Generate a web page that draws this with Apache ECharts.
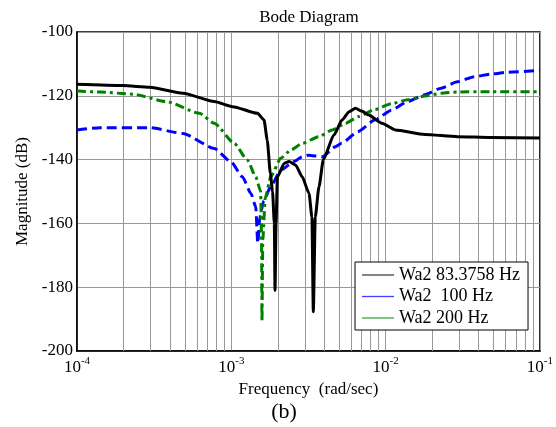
<!DOCTYPE html>
<html>
<head>
<meta charset="utf-8">
<script src="https://cdn.jsdelivr.net/npm/echarts@6/dist/echarts.min.js"></script>
<style>
  html, body { margin: 0; padding: 0; background: #fff; }
  #chart { width: 556px; height: 427px; }
</style>
</head>
<body>
<div id="chart"></div>
<script>
// values (frequency in rad/sec, magnitude in dB)
const blackFreq = [1e-4, 1.98e-4, 2.96e-4, 4.86e-4, 7.76e-4, 1.02e-3, 1.48e-3, 1.63e-3, 1.71e-3, 1.79e-3, 1.85e-3, 1.90e-3, 1.92e-3, 1.95e-3, 1.99e-3, 2.20e-3, 2.37e-3, 2.61e-3, 2.88e-3, 3.19e-3, 3.33e-3, 3.40e-3, 3.50e-3, 3.70e-3, 3.95e-3, 4.62e-3, 5.22e-3, 5.8e-3, 6.38e-3, 7.0e-3, 7.77e-3, 9.46e-3, 1.156e-2, 1.80e-2, 2.92e-2, 4.81e-2, 1e-1];
const blackMag = [-116.4, -116.8, -117.3, -119.2, -121.8, -123.4, -125.5, -127.6, -133.9, -144.3, -150, -160, -181, -160, -145.4, -141.2, -140.6, -141.7, -145.4, -150.6, -158, -187.7, -158, -148.5, -140, -132.3, -127.6, -125, -123.9, -124.8, -126, -128.6, -130.7, -132.1, -132.8, -133.1, -133.2];

const blueFreq = [1e-4, 1.41e-4, 2.96e-4, 4.86e-4, 7.76e-4, 9.95e-4, 1.18e-3, 1.34e-3, 1.44e-3, 1.485e-3, 1.53e-3, 1.62e-3, 1.80e-3, 2.09e-3, 2.55e-3, 2.88e-3, 3.15e-3, 3.88e-3, 4.73e-3, 5.18e-3, 6.63e-3, 8.5e-3, 1.09e-2, 1.39e-2, 1.79e-2, 2.29e-2, 2.92e-2, 3.75e-2, 4.81e-2, 6.15e-2, 1e-1];
const blueMag = [-130.7, -130.0, -130.0, -131.8, -136.5, -140.7, -145.4, -150.6, -154.8, -166.2, -158, -153, -148.5, -143.3, -140.6, -139.1, -138.6, -139.1, -136, -134.9, -131.2, -127.6, -124.5, -121.8, -119.7, -117.6, -115.6, -114, -113.2, -112.6, -112.0];

const greenFreq = [1e-4, 1.41e-4, 2.31e-4, 3.79e-4, 6.22e-4, 7.76e-4, 1.045e-3, 1.27e-3, 1.44e-3, 1.55e-3, 1.57e-3, 1.58e-3, 1.60e-3, 1.66e-3, 1.80e-3, 2.09e-3, 2.43e-3, 2.88e-3, 3.70e-3, 4.51e-3, 5.50e-3, 6.70e-3, 8.50e-3, 1.09e-2, 1.39e-2, 1.79e-2, 2.29e-2, 2.92e-2, 4.81e-2, 1e-1];
const greenMag = [-118.5, -118.8, -119.5, -121.8, -125.5, -128.6, -134.9, -140.1, -145.4, -150, -165, -190.8, -165, -152, -145.4, -139.6, -137, -134.9, -132.8, -130.7, -128.6, -126.5, -124.3, -122.5, -121.2, -120.1, -119.2, -118.8, -118.7, -118.7];

const seriesNames = ['Wa2 83.3758 Hz', 'Wa2  100 Hz', 'Wa2 200 Hz'];
const yTicks = [-200, -180, -160, -140, -120, -100];

// minor log grid lines 2..9 in each decade
const minorGrid = [];
for (let d = -4; d < -1; d++) {
    for (let k = 2; k <= 9; k++) minorGrid.push(k * Math.pow(10, d));
}

const serif = "'Liberation Serif', 'Times New Roman', serif";

function zip(xs, ys) {
    return xs.map((x, i) => [x, ys[i]]);
}

const chart = echarts.init(document.getElementById('chart'));
chart.setOption({
    animation: false,
    textStyle: { fontFamily: serif },
    grid: {
        left: 77, top: 32, right: 14, bottom: 76,
        show: true, borderColor: '#000', borderWidth: 1.5
    },
    graphic: [
        { type: 'text', x: 309, y: 18, style: { text: 'Bode Diagram', font: '17px ' + serif, fill: '#000', textAlign: 'center', textVerticalAlign: 'middle' } },
        { type: 'text', x: 284, y: 412, style: { text: '(b)', font: '22px ' + serif, fill: '#000', textAlign: 'center', textVerticalAlign: 'middle' } }
    ],
    legend: {
        data: seriesNames.map(n => ({ name: n, icon: 'rect' })),
        orient: 'vertical',
        left: 355,
        top: 262,
        padding: [4, 8, 3, 7],
        itemGap: 3.5,
        itemWidth: 32,
        itemHeight: 1.3,
        backgroundColor: '#fff',
        borderColor: '#000',
        borderWidth: 1,
        borderRadius: 0,
        itemStyle: { opacity: 0.75 },
        textStyle: { fontFamily: serif, fontSize: 18, color: '#000', lineHeight: 17, padding: [0, 0, 0, 0] }
    },
    xAxis: {
        type: 'log',
        logBase: 10,
        min: 1e-4,
        max: 1e-1,
        name: 'Frequency  (rad/sec)',
        nameLocation: 'middle',
        nameGap: 26,
        nameTextStyle: { fontFamily: serif, fontSize: 17, color: '#000' },
        axisLine: { show: true, onZero: false, lineStyle: { color: '#000', width: 1.5 } },
        axisTick: { show: false },
        splitLine: { show: true, lineStyle: { color: '#999', width: 1 } },
        axisLabel: {
            margin: 5,
            formatter: function (v) {
                return '{b|10}{s|' + Math.round(Math.log10(v)) + '}';
            },
            rich: {
                b: { fontFamily: serif, fontSize: 17, color: '#000', lineHeight: 20, verticalAlign: 'bottom' },
                s: { fontFamily: serif, fontSize: 11, color: '#000', lineHeight: 11, verticalAlign: 'top' }
            }
        }
    },
    yAxis: {
        type: 'value',
        min: -200,
        max: -100,
        interval: 20,
        name: 'Magnitude (dB)',
        nameLocation: 'middle',
        nameGap: 40,
        nameTextStyle: { fontFamily: serif, fontSize: 17, color: '#000' },
        axisLine: { show: true, onZero: false, lineStyle: { color: '#000', width: 1.5 } },
        axisTick: { show: false },
        splitLine: { show: true, lineStyle: { color: '#999', width: 1 } },
        axisLabel: {
            margin: 4,
            fontFamily: serif,
            fontSize: 17,
            color: '#000',
            formatter: function (v) { return yTicks.indexOf(v) >= 0 ? String(v) : ''; }
        }
    },
    series: [
        {
            name: 'minor grid',
            type: 'lines',
            coordinateSystem: 'cartesian2d',
            silent: true,
            z: 1,
            lineStyle: { color: '#999', width: 1, opacity: 1 },
            data: minorGrid.map(v => ({ coords: [[v, -200], [v, -100]] }))
        },
        {
            name: seriesNames[0],
            type: 'line',
            data: zip(blackFreq, blackMag),
            showSymbol: false,
            symbol: 'none',
            smooth: 0.2,
            smoothMonotone: 'x',
            color: '#000',
            lineStyle: { color: '#000', width: 3 },
            z: 4
        },
        {
            name: seriesNames[1],
            type: 'line',
            data: zip(blueFreq, blueMag),
            showSymbol: false,
            symbol: 'none',
            smooth: 0.2,
            smoothMonotone: 'x',
            color: '#0000ff',
            lineStyle: { color: '#0000ff', width: 3, type: [10, 5] },
            z: 3
        },
        {
            name: seriesNames[2],
            type: 'line',
            data: zip(greenFreq, greenMag),
            showSymbol: false,
            symbol: 'none',
            smooth: 0.2,
            smoothMonotone: 'x',
            color: '#008000',
            lineStyle: { color: '#008000', width: 3, type: [9, 4, 3, 4] },
            z: 3
        }
    ]
});
</script>
</body>
</html>
